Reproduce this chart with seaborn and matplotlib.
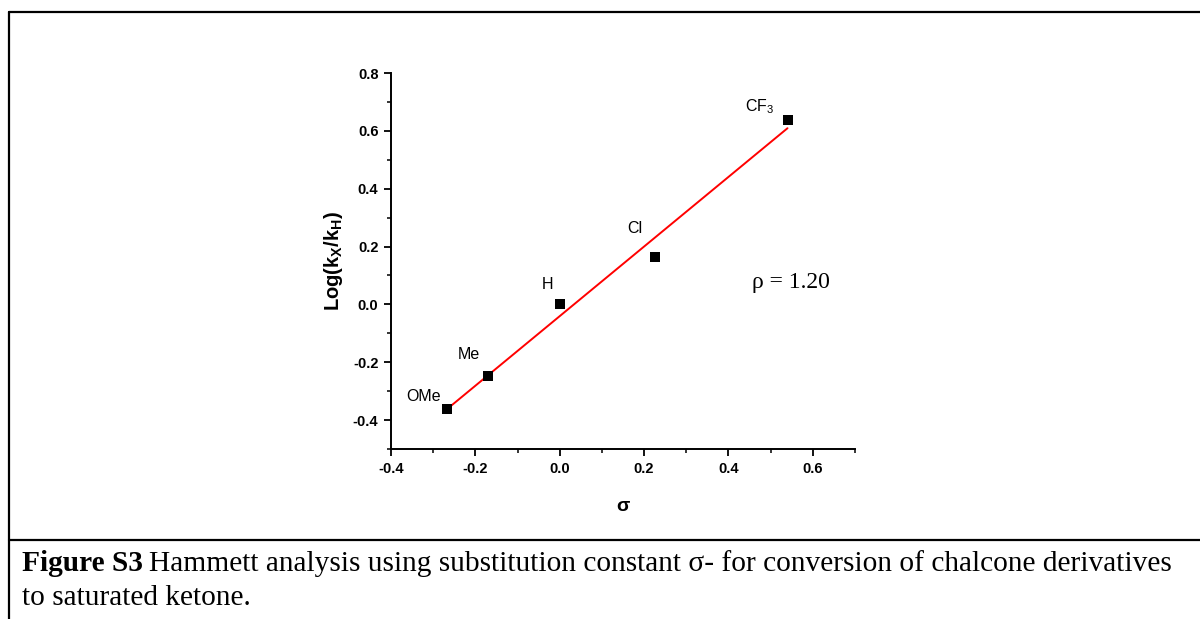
import numpy as np
import pandas as pd
import seaborn as sns
import matplotlib
matplotlib.use("Agg")
import matplotlib.pyplot as plt
from matplotlib.lines import Line2D
from matplotlib.ticker import MultipleLocator

# Data
substituents = ["OMe", "Me", "H", "Cl", "CF$_3$"]
sigma = [-0.268, -0.170, 0.000, 0.227, 0.540]
log_ratio = [-0.362, -0.247, 0.000, 0.164, 0.638]
x_ticks = [-0.4, -0.2, 0.0, 0.2, 0.4, 0.6]
y_ticks = [-0.4, -0.2, 0.0, 0.2, 0.4, 0.6, 0.8]

df = pd.DataFrame({"sigma": sigma, "log": log_ratio, "sub": substituents})

sns.set_style("ticks")
plt.rcParams['font.family'] = ['Liberation Sans', 'DejaVu Sans']
plt.rcParams['mathtext.fontset'] = 'custom'
plt.rcParams['mathtext.rm'] = 'Liberation Sans'
plt.rcParams['mathtext.bf'] = 'Liberation Sans:bold'
plt.rcParams['mathtext.it'] = 'Liberation Sans:italic'
for k in ['text.color', 'axes.labelcolor', 'xtick.color', 'ytick.color', 'axes.edgecolor']:
    plt.rcParams[k] = 'black'

fig = plt.figure(figsize=(12, 6.19), dpi=100)
ax = fig.add_axes([0.3258, 0.2746, 0.7125 - 0.3258, 0.882 - 0.2746])

sns.regplot(data=df, x="sigma", y="log", ax=ax, ci=None, marker="s",
            scatter_kws=dict(s=52, color="black", alpha=1, zorder=3, linewidths=0),
            line_kws=dict(color="red", lw=1.4, zorder=2))

ax.set_xlim(-0.4, 0.7)
ax.set_ylim(-0.5, 0.8)
ax.set_xticks(x_ticks)
ax.set_yticks(y_ticks)
ax.set_xticklabels([f"{v:.1f}" for v in x_ticks], fontweight="bold", fontsize=10.5)
ax.set_yticklabels([f"{v:.1f}" for v in y_ticks], fontweight="bold", fontsize=10.5)
ax.xaxis.set_minor_locator(MultipleLocator(0.1))
ax.yaxis.set_minor_locator(MultipleLocator(0.1))
ax.tick_params(which="major", direction="out", length=5, width=1.3, pad=4)
ax.tick_params(which="minor", direction="out", length=3, width=1.1)
for s in ["top", "right"]:
    ax.spines[s].set_visible(False)
for s in ["left", "bottom"]:
    ax.spines[s].set_linewidth(1.4)

ax.set_xlabel("σ", fontsize=14, fontweight="bold", labelpad=16)
ax.set_ylabel(r"$\mathbf{Log(k_X/k_H)}$", fontsize=14.5, labelpad=6)

offsets = {"OMe": (-0.055, 0.045), "Me": (-0.045, 0.075), "H": (-0.03, 0.07),
           "Cl": (-0.05, 0.10), "CF$_3$": (-0.065, 0.045)}
for x, y, lab in zip(sigma, log_ratio, substituents):
    dx, dy = offsets[lab]
    ax.text(x + dx, y + dy, lab, fontsize=11.5, ha="center", va="center")

ax.text(0.548, 0.077, "ρ = 1.20", fontsize=17, family="Liberation Serif",
        ha="center", va="center")

# Frame lines (table-like border)
lw = 1.6
fig.add_artist(Line2D([0.0075, 1.0], [0.9806, 0.9806], transform=fig.transFigure, color="black", lw=lw))
fig.add_artist(Line2D([0.0075, 0.0075], [0.0, 0.9806], transform=fig.transFigure, color="black", lw=lw))
fig.add_artist(Line2D([0.0075, 1.0], [0.1276, 0.1276], transform=fig.transFigure, color="black", lw=lw))

cap_fs = 21.2
y1 = 1 - 571 / 619
y2 = 1 - 605 / 619
t_bold = fig.text(0.018, y1, "Figure S3", fontsize=cap_fs, family="Liberation Serif",
                  fontweight="bold", va="baseline", ha="left")
fig.canvas.draw()
bb = t_bold.get_window_extent(renderer=fig.canvas.get_renderer())
x_rest = (bb.x1 + 6) / fig.bbox.width
fig.text(x_rest, y1, "Hammett analysis using substitution constant σ- for conversion of chalcone derivatives",
         fontsize=cap_fs, family="Liberation Serif", va="baseline", ha="left")
fig.text(0.018, y2, "to saturated ketone.", fontsize=cap_fs, family="Liberation Serif",
         va="baseline", ha="left")

fig.savefig("out.png", dpi=100)
